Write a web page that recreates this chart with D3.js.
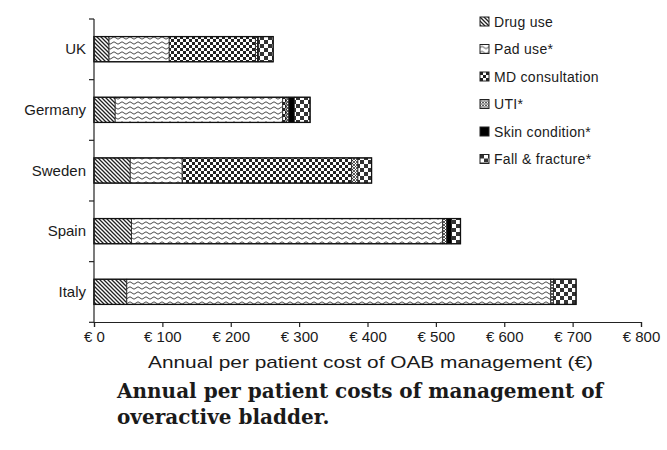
<!DOCTYPE html>
<html>
<head>
<meta charset="utf-8">
<script src="https://cdn.jsdelivr.net/npm/d3@7"></script>
<style>
  body { margin: 0; background: #fff; }
  text { font-family: "Liberation Sans", Arial, sans-serif; fill: #1a1a1a; }
</style>
</head>
<body>
<script>
const countries = ["UK", "Germany", "Sweden", "Spain", "Italy"];
const seriesNames = ["Drug use", "Pad use*", "MD consultation", "UTI*", "Skin condition*", "Fall & fracture*"];

// € per patient per year
const drugUse        = [22, 31, 53, 55, 48];
const padUse         = [88, 245, 76, 455, 620];
const mdConsultation = [126, 5, 248, 0, 0];
const uti            = [3, 4, 9, 6, 4];
const skinCondition  = [2, 8, 0, 7, 0];
const fallFracture   = [21, 23, 20, 13, 33];

const xTicks = [0, 100, 200, 300, 400, 500, 600, 700, 800];

const width = 667, height = 450;
const margin = {top: 19, right: 26, bottom: 128, left: 94};

const keys = ["drug", "pad", "md", "uti", "skin", "fall"];
const table = countries.map((c, i) => ({
  country: c,
  drug: drugUse[i], pad: padUse[i], md: mdConsultation[i],
  uti: uti[i], skin: skinCondition[i], fall: fallFracture[i]
}));

const x = d3.scaleLinear()
            .domain([0, 800])
            .range([margin.left, width - margin.right]);

const y = d3.scaleBand()
            .domain(countries)
            .range([margin.top, height - margin.bottom])
            .paddingInner(0.585)
            .paddingOuter(0.29);

const svg = d3.select("body").append("svg")
              .attr("width", width)
              .attr("height", height);

// hatch patterns
const defs = svg.append("defs");

const pDrug = defs.append("pattern").attr("id", "p-drug")
  .attr("patternUnits", "userSpaceOnUse").attr("width", 4).attr("height", 4);
pDrug.append("rect").attr("width", 4).attr("height", 4).attr("fill", "#fff");
pDrug.append("path").attr("d", "M-1,-1 L5,5 M-1,3 L1,5 M3,-1 L5,1")
  .attr("stroke", "#222").attr("stroke-width", 1.3);

const pPad = defs.append("pattern").attr("id", "p-pad")
  .attr("patternUnits", "userSpaceOnUse").attr("width", 8).attr("height", 5);
pPad.append("rect").attr("width", 8).attr("height", 5).attr("fill", "#fff");
pPad.append("path").attr("d", "M0,3 Q2,0.6 4,3 T8,3")
  .attr("fill", "none").attr("stroke", "#4a4a4a").attr("stroke-width", 1);

const pMd = defs.append("pattern").attr("id", "p-md")
  .attr("patternUnits", "userSpaceOnUse").attr("width", 6).attr("height", 6);
pMd.append("rect").attr("width", 6).attr("height", 6).attr("fill", "#fff");
pMd.append("rect").attr("width", 3).attr("height", 3).attr("fill", "#222");
pMd.append("rect").attr("x", 3).attr("y", 3).attr("width", 3).attr("height", 3).attr("fill", "#222");

const pUti = defs.append("pattern").attr("id", "p-uti")
  .attr("patternUnits", "userSpaceOnUse").attr("width", 3).attr("height", 3);
pUti.append("rect").attr("width", 3).attr("height", 3).attr("fill", "#fff");
pUti.append("path").attr("d", "M0,0 L3,3 M3,0 L0,3")
  .attr("stroke", "#333").attr("stroke-width", 0.8);

const pFall = defs.append("pattern").attr("id", "p-fall")
  .attr("patternUnits", "userSpaceOnUse").attr("width", 8).attr("height", 8);
pFall.append("rect").attr("width", 8).attr("height", 8).attr("fill", "#fff");
pFall.append("rect").attr("width", 4).attr("height", 4).attr("fill", "#333");
pFall.append("rect").attr("x", 4).attr("y", 4).attr("width", 4).attr("height", 4).attr("fill", "#333");

const fills = {
  drug: "url(#p-drug)", pad: "url(#p-pad)", md: "url(#p-md)",
  uti: "url(#p-uti)", skin: "#000", fall: "url(#p-fall)"
};

const stacked = d3.stack().keys(keys)(table);

const layers = svg.append("g").selectAll("g")
  .data(stacked)
  .enter().append("g")
    .attr("fill", d => fills[d.key]);

layers.selectAll("rect")
  .data(d => d)
  .enter().append("rect")
    .attr("x", d => x(d[0]))
    .attr("y", d => y(d.data.country))
    .attr("width", d => x(d[1]) - x(d[0]))
    .attr("height", y.bandwidth())
    .attr("stroke", "#222")
    .attr("stroke-width", 0.8);

// bar outlines
svg.append("g").selectAll("rect")
  .data(table)
  .enter().append("rect")
    .attr("x", x(0))
    .attr("y", d => y(d.country))
    .attr("width", d => x(d3.sum(keys, k => d[k])) - x(0))
    .attr("height", y.bandwidth())
    .attr("fill", "none")
    .attr("stroke", "#111")
    .attr("stroke-width", 1.3);

// y axis: line + ticks between categories
const yTop = y.range()[0], yBot = y.range()[1];
svg.append("line")
  .attr("x1", x(0)).attr("x2", x(0))
  .attr("y1", yTop).attr("y2", yBot)
  .attr("stroke", "#222").attr("stroke-width", 1.2);

svg.append("g").selectAll("line")
  .data(d3.range(countries.length + 1))
  .enter().append("line")
    .attr("x1", x(0) - 5).attr("x2", x(0))
    .attr("y1", i => yTop + i * y.step())
    .attr("y2", i => yTop + i * y.step())
    .attr("stroke", "#222").attr("stroke-width", 1.2);

svg.append("g").selectAll("text")
  .data(countries)
  .enter().append("text")
    .attr("x", x(0) - 8)
    .attr("y", d => y(d) + y.bandwidth() / 2)
    .attr("dy", "0.35em")
    .attr("text-anchor", "end")
    .style("font-size", "15px")
    .text(d => d);

// x axis
const xAxis = d3.axisBottom(x)
  .tickValues(xTicks)
  .tickSize(5)
  .tickPadding(4)
  .tickFormat(d => "€ " + d);

const gx = svg.append("g")
  .attr("transform", "translate(0," + yBot + ")")
  .call(xAxis);
gx.select(".domain").attr("stroke", "#222").attr("stroke-width", 1.2);
gx.selectAll(".tick line").attr("stroke", "#222").attr("stroke-width", 1.2);
gx.selectAll(".tick text")
  .style("font-size", "15px")
  .style("font-family", "'Liberation Sans', Arial, sans-serif")
  .attr("fill", "#1a1a1a");

svg.append("text")
  .attr("x", 148)
  .attr("y", 368)
  .attr("textLength", 445)
  .attr("lengthAdjust", "spacingAndGlyphs")
  .style("font-size", "17px")
  .text("Annual per patient cost of OAB management (€)");

// legend
const legend = svg.append("g").attr("transform", "translate(480,17)");
const legendRows = legend.selectAll("g")
  .data(keys)
  .enter().append("g")
    .attr("transform", (d, i) => "translate(0," + i * 27.5 + ")");

legendRows.append("rect")
  .attr("width", 9).attr("height", 9)
  .attr("fill", d => fills[d])
  .attr("stroke", "#222").attr("stroke-width", 1);

legendRows.append("text")
  .attr("x", 14).attr("y", 5)
  .attr("dy", "0.35em")
  .style("font-size", "14px")
  .style("letter-spacing", "0.3px")
  .text((d, i) => seriesNames[i]);

// caption
const caption = svg.append("text")
  .style("font-family", "'DejaVu Serif', serif")
  .style("font-weight", "bold")
  .style("font-size", "20px")
  .attr("fill", "#111");
caption.append("tspan").attr("x", 117).attr("y", 398)
  .text("Annual per patient costs of management of");
caption.append("tspan").attr("x", 117).attr("y", 424)
  .text("overactive bladder.");
</script>
</body>
</html>
